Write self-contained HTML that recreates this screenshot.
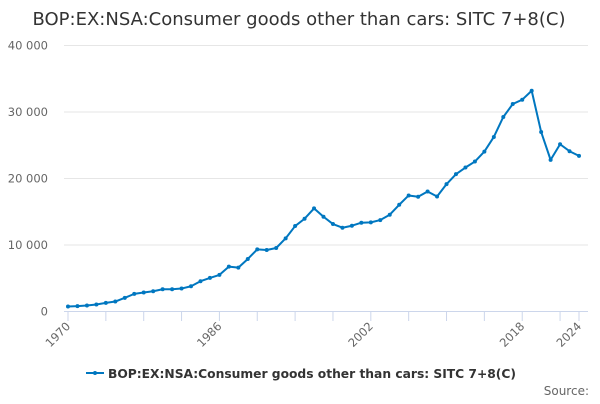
<!DOCTYPE html>
<html><head><meta charset="utf-8"><style>
body{margin:0;background:#fff;font-family:"DejaVu Sans","Liberation Sans",sans-serif}
</style></head><body>
<svg id="c" width="600" height="400" xmlns="http://www.w3.org/2000/svg">
<text x="299" y="25" text-anchor="middle" font-size="18" fill="#333">BOP:EX:NSA:Consumer goods other than cars: SITC 7+8(C)</text>
<g id="grid"></g><g id="xaxis"></g><g id="series"></g>
<g>
<line x1="86" y1="373" x2="104" y2="373" stroke="#0077c0" stroke-width="2"/>
<circle cx="95" cy="373" r="2" fill="#0077c0"/>
<text x="108" y="378" font-size="12.3" font-weight="bold" fill="#333" textLength="408" lengthAdjust="spacing">BOP:EX:NSA:Consumer goods other than cars: SITC 7+8(C)</text>
</g>
<text x="589" y="395" text-anchor="end" font-size="12" fill="#666">Source:</text>
</svg>
<script>
const years=[];for(let y=1970;y<=2024;y++)years.push(y);
const values=[750,800,900,1050,1300,1500,2050,2650,2850,3050,3350,3350,3450,3800,4550,5050,5500,6750,6600,7900,9350,9250,9550,11000,12850,13950,15500,14250,13150,12600,12900,13350,13400,13750,14550,16050,17450,17250,18050,17300,19150,20650,21650,22550,24050,26250,29250,31200,31850,33200,27000,22800,25150,24100,23400];
const yTicks=[0,10000,20000,30000,40000];
const yTickLabels=["0","10 000","20 000","30 000","40 000"];
const xLabels=[1970,1986,2002,2018,2024];
const NS="http://www.w3.org/2000/svg";
const X=y=>68+(y-1970)*(579-68)/54;
const Y=v=>311.5-v*(266/40000);
function el(t,a,p){const e=document.createElementNS(NS,t);for(const k in a)e.setAttribute(k,a[k]);p.appendChild(e);return e;}
const g=document.getElementById('grid'),xa=document.getElementById('xaxis'),s=document.getElementById('series');
yTicks.forEach((v,i)=>{
 if(i>0){const l=el('line',{x1:64,x2:588,y1:Y(v),y2:Y(v),stroke:'#e6e6e6','stroke-width':1},g);
 
 }
 const t=el('text',{x:48,y:Y(v)+4,'text-anchor':'end','font-size':11.5,fill:'#666'},g);t.textContent=yTickLabels[i];
 
 
});
const ax=el('line',{x1:64,x2:588,y1:311.5,y2:311.5,stroke:'#ccd6eb','stroke-width':1},xa);


const tickYears=[];for(let y=1970;y<2024;y+=4)tickYears.push(y);tickYears.push(2024);
tickYears.forEach(y=>{const l=el('line',{x1:X(y),x2:X(y),y1:311.5,y2:321,stroke:'#ccd6eb'},xa);
 
 });
xLabels.forEach(y=>{const x=X(y)+3,yy=327;const t=el('text',{x:x,y:yy,'text-anchor':'end','font-size':11.5,fill:'#666',transform:`rotate(-45 ${x} ${yy})`},xa);t.textContent=y;
 
 });
const p=el('polyline',{points:values.map((v,i)=>X(years[i])+','+Y(v)).join(' '),fill:'none',stroke:'#0077c0','stroke-width':2,'stroke-linejoin':'round'},s);


values.forEach((v,i)=>{const c=el('circle',{cx:X(years[i]),cy:Y(v),r:2,fill:'#0077c0'},s);
 
 });
</script>
</body></html>
